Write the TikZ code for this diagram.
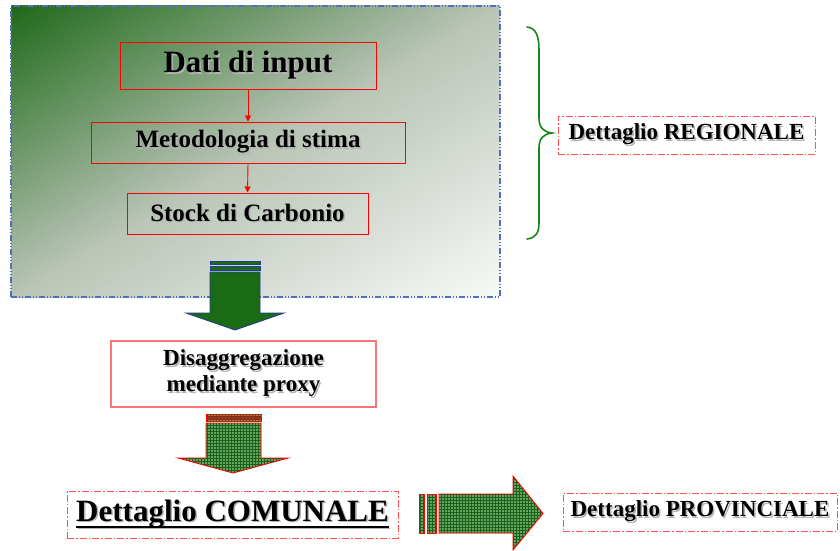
\documentclass[tikz,border=0pt]{standalone}
\usepackage{fontspec}
\setmainfont{Liberation Serif}
\usetikzlibrary{arrows.meta,patterns}

\definecolor{pgreen}{RGB}{30,105,25}
\definecolor{pmid}{RGB}{185,196,182}
\definecolor{pwhite}{RGB}{248,249,248}
\definecolor{panelblue}{RGB}{80,112,188}
\definecolor{arrgreen}{RGB}{27,106,20}
\definecolor{arrblue}{RGB}{32,62,150}
\definecolor{chkgreen}{RGB}{100,165,95}
\definecolor{chkdark}{RGB}{28,96,28}
\definecolor{softred}{RGB}{255,115,115}
\definecolor{dashred}{RGB}{255,80,80}
\definecolor{bracegreen}{RGB}{22,135,22}
\definecolor{shadowgrey}{RGB}{180,180,180}

% text with a soft grey drop shadow
\newcommand\shadowed[1]{\leavevmode\rlap{\hspace{1.5pt}\raisebox{-1.5pt}{\textcolor{shadowgrey}{#1}}}#1}
% thick underline
\newcommand\thickul[1]{\setbox0\hbox{#1}\rlap{\rule[-6.8pt]{\wd0}{1.8pt}}\box0}

% one band of the panel gradient, between offsets #1 and #2 across the
% rising diagonal of the panel, filled with colour #3
\newcommand\gradband[3]{%
  \pgfmathsetmacro\axa{255.5+0.5114*(#1)-515.6}%
  \pgfmathsetmacro\aya{151.5+0.8594*(#1)+306.8}%
  \pgfmathsetmacro\bxa{255.5+0.5114*(#1)+515.6}%
  \pgfmathsetmacro\bya{151.5+0.8594*(#1)-306.8}%
  \pgfmathsetmacro\axb{255.5+0.5114*(#2)-515.6}%
  \pgfmathsetmacro\ayb{151.5+0.8594*(#2)+306.8}%
  \pgfmathsetmacro\bxb{255.5+0.5114*(#2)+515.6}%
  \pgfmathsetmacro\byb{151.5+0.8594*(#2)-306.8}%
  \fill[#3] (\axa,\aya) -- (\bxa,\bya) -- (\bxb,\byb) -- (\axb,\ayb) -- cycle;}

\tikzset{
  flowbox/.style={draw=red, line width=1pt, inner sep=0pt, align=center,
    font=\bfseries},
  detbox/.style={draw=dashred, line width=1pt, inner sep=0pt, align=center,
    font=\bfseries,
    dash pattern=on 7pt off 2pt on 1.5pt off 2pt},
  flowarrow/.style={draw=red, line width=0.9pt,
    -{Triangle[width=6pt,length=6pt]}},
  solidarrow/.style={fill=arrgreen, draw=arrblue, line width=0.9pt,
    line join=miter},
  checkarrow/.style={preaction={fill=chkgreen}, pattern=grid,
    pattern color=chkdark, draw=red, line width=0.9pt, line join=miter},
}

\begin{document}
\begin{tikzpicture}[x=1pt,y=-1pt]
\useasboundingbox (0,0) rectangle (840,551);

% panel background: diagonal gradient, dark green top left to white
% bottom right, built from thin bands
\begin{scope}
  \clip (11,6) rectangle (500,297);
  \foreach \i in {0,...,59} {
    \pgfmathsetmacro\ta{-250+250/60*\i}
    \pgfmathsetmacro\tb{\ta+250/60+0.8}
    \pgfmathsetmacro\pc{100*(\i+0.5)/60}
    \gradband{\ta}{\tb}{pmid!\pc!pgreen}
  }
  \foreach \i in {0,...,59} {
    \pgfmathsetmacro\ta{250/60*\i}
    \pgfmathsetmacro\tb{\ta+250/60+0.8}
    \pgfmathsetmacro\pc{100*(\i+0.5)/60}
    \gradband{\ta}{\tb}{pwhite!\pc!pmid}
  }
\end{scope}
\node[draw=panelblue, line width=1.1pt,
  dash pattern=on 6pt off 2pt on 1pt off 2pt on 1pt off 2pt,
  minimum width=489pt, minimum height=291pt, inner sep=0pt]
  (panel) at (255.5,151.5) {};

% regional flow
\node[flowbox, minimum width=256pt, minimum height=47pt,
  font=\bfseries\fontsize{31}{34}\selectfont]
  (dati) at (248,66) {\shadowed{Dati di input}};
\node[flowbox, minimum width=314pt, minimum height=41pt,
  font=\bfseries\fontsize{25}{28}\selectfont]
  (metodo) at (248,142.5) {\shadowed{Metodologia di stima}};
\node[flowbox, minimum width=241pt, minimum height=41pt,
  font=\bfseries\fontsize{25}{28}\selectfont]
  (stock) at (247.5,213.5) {\shadowed{Stock di Carbonio}};

\draw[flowarrow] (dati.south) -- (metodo.north);
\draw[flowarrow] (metodo.south) -- (stock.north);

% brace and regional label
\draw[bracegreen, line width=1.6pt, line cap=round]
  (527,27) .. controls (536,28) and (539,36) .. (539,50)
  -- (539,118) .. controls (539,127) and (543,132) .. (552,133)
  .. controls (543,134) and (539,139) .. (539,148)
  -- (539,222) .. controls (539,233) and (536,238) .. (527,239);
\node[detbox, minimum width=257pt, minimum height=38pt,
  font=\bfseries\fontsize{23}{26}\selectfont]
  (regionale) at (686.5,135) {\shadowed{Dettaglio REGIONALE}};

% first block arrow, down to the disaggregation step
\draw[solidarrow] (210,261.5) rectangle (260,264.5);
\draw[solidarrow] (210,266.5) rectangle (260,270);
\draw[solidarrow] (210,272) -- (260,272) -- (260,313) -- (284,313)
  -- (235,330) -- (186,313) -- (210,313) -- cycle;

\node[draw=softred, line width=1.1pt, fill=white, inner sep=0pt,
  minimum width=265pt, minimum height=66pt, align=center,
  font=\bfseries\fontsize{23}{26}\selectfont]
  (disagg) at (243.5,374) {\shadowed{Disaggregazione}\\\shadowed{mediante proxy}};

% second block arrow, down to the municipal level
\draw[checkarrow] (206,414) rectangle (261,417);
\draw[checkarrow] (206,418.5) rectangle (261,421.5);
\draw[checkarrow] (206,423) -- (261,423) -- (261,458) -- (288,458)
  -- (233,473) -- (178,458) -- (206,458) -- cycle;

\node[detbox, minimum width=331pt, minimum height=47pt,
  font=\bfseries\fontsize{31}{34}\selectfont]
  (comunale) at (232.5,514.5) {\shadowed{\thickul{Dettaglio COMUNALE}}};

% third block arrow, right to the provincial level
\draw[checkarrow] (419,494) rectangle (424,533);
\draw[checkarrow] (427,494) rectangle (436,533);
\draw[checkarrow] (439,494) -- (513,494) -- (513,476) -- (543,513.5)
  -- (513,550) -- (513,533) -- (439,533) -- cycle;

\node[detbox, minimum width=274pt, minimum height=38pt,
  font=\bfseries\fontsize{23}{26}\selectfont]
  (provinciale) at (700,512) {\shadowed{Dettaglio PROVINCIALE}};
\end{tikzpicture}
\end{document}
